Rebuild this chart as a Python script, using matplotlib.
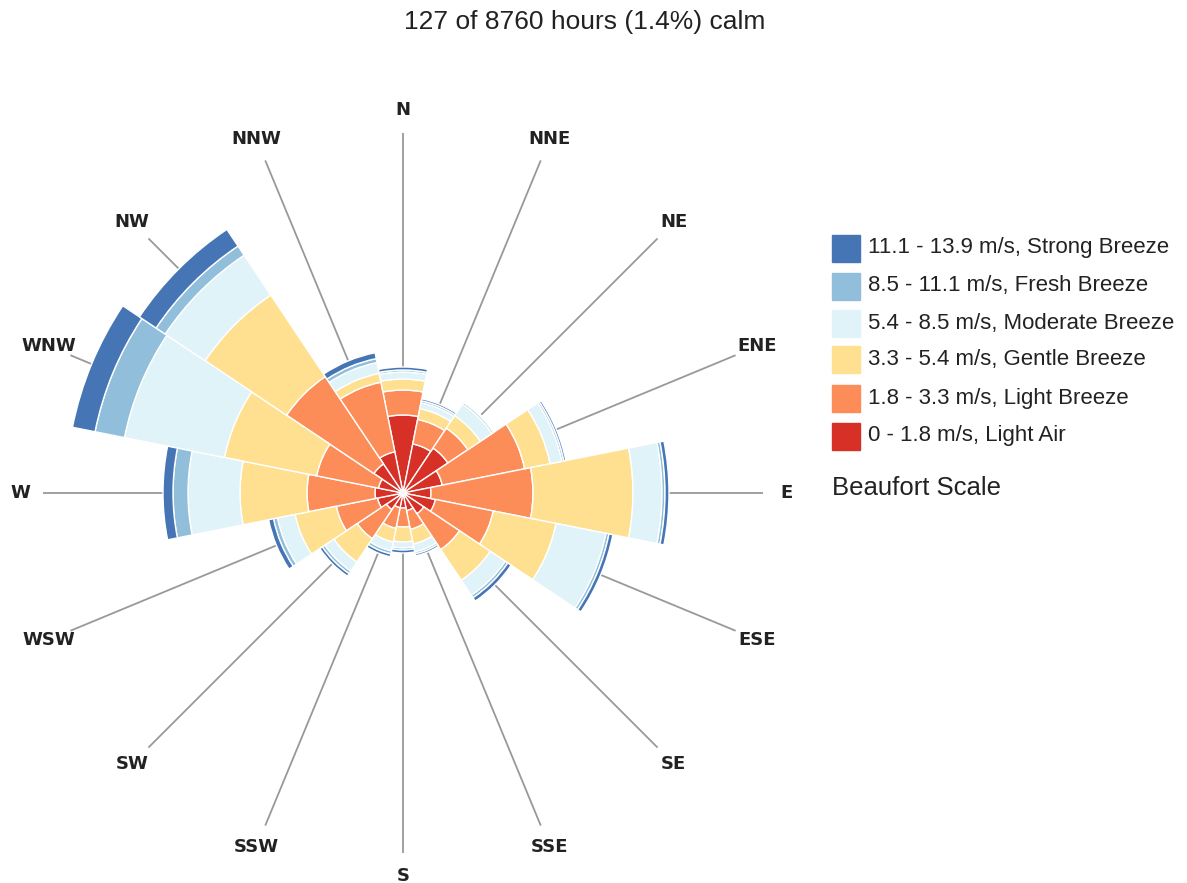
import numpy as np
import matplotlib.pyplot as plt
from matplotlib.patches import Rectangle

# wind rose data (stacked frequency per direction, arbitrary units)
directions = ["N", "NNE", "NE", "ENE", "E", "ESE", "SE", "SSE",
              "S", "SSW", "SW", "WSW", "W", "WNW", "NW", "NNW"]
light_air = [78, 50, 54, 40, 28, 33, 25, 18, 15, 15, 20, 26, 28, 25, 35, 42]
light_breeze = [25, 25, 24, 84, 102, 59, 43, 19, 19, 21, 35, 42, 68, 63, 105, 71]
gentle_breeze = [11, 11, 15, 26, 100, 64, 37, 15, 15, 14, 28, 42, 67, 94, 98, 9]
moderate_breeze = [7, 6, 14, 12, 29, 51, 18, 8, 6, 9, 11, 18, 52, 102, 48, 11]
fresh_breeze = [2, 2, 2, 2, 3, 3, 3, 2, 2, 3, 3, 4, 15, 30, 11, 4]
strong_breeze = [3, 2, 1, 2, 4, 4, 4, 2, 3, 3, 3, 5, 10, 23, 20, 6]

series = [light_air, light_breeze, gentle_breeze, moderate_breeze, fresh_breeze, strong_breeze]
labels = ["0 - 1.8 m/s, Light Air", "1.8 - 3.3 m/s, Light Breeze",
          "3.3 - 5.4 m/s, Gentle Breeze", "5.4 - 8.5 m/s, Moderate Breeze",
          "8.5 - 11.1 m/s, Fresh Breeze", "11.1 - 13.9 m/s, Strong Breeze"]
colors = ["#d73027", "#fc8d59", "#fee090", "#e0f3f8", "#91bfdb", "#4575b4"]

W, H = 1187, 883
fig = plt.figure(figsize=(W / 100, H / 100), dpi=100)

# polar axes centred at (403, 493) px with radius 360 px
cx, cy, R = 403, 493, 360
ax = fig.add_axes([(cx - R) / W, (H - cy - R) / H, 2 * R / W, 2 * R / H], projection="polar")
ax.set_theta_zero_location("N")
ax.set_theta_direction(-1)

theta = np.deg2rad(np.arange(len(directions)) * 22.5)
width = np.deg2rad(22.5)

# grey spokes behind the bars
for t, lab in zip(theta, directions):
    ax.plot([t, t], [0, R], color="#999999", lw=1.3, zorder=1)
    ax.text(t, 383, lab, ha="center", va="center", fontsize=13,
            fontweight="bold", color="#222222", clip_on=False)

bottom = np.zeros(len(directions))
for vals, col in zip(series, colors):
    ax.bar(theta, vals, width=width, bottom=bottom, color=col,
           edgecolor="white", linewidth=1.0, zorder=3)
    bottom += np.array(vals)

ax.set_ylim(0, R)
ax.axis("off")

# title
fig.text(585 / W, 1 - 22 / H, "127 of 8760 hours (1.4%) calm", ha="center", va="center",
         fontsize=19, family="Liberation Sans", color="#222222")

# legend drawn by hand
row_y = [436, 398, 360, 323, 286, 248]
for y, lab, col in zip(row_y, labels, colors):
    fig.add_artist(Rectangle((832 / W, 1 - (y + 13.5) / H), 28 / W, 27 / H,
                             transform=fig.transFigure, color=col))
    fig.text(868 / W, 1 - y / H, lab, ha="left", va="center", fontsize=16,
             family="Liberation Sans", color="#222222")

fig.text(832 / W, 1 - 488 / H, "Beaufort Scale", ha="left", va="center", fontsize=18.5,
         family="Liberation Sans", color="#222222")

fig.savefig("out.png", dpi=100)
